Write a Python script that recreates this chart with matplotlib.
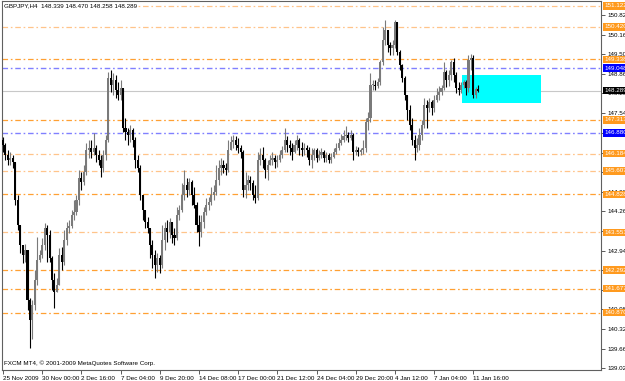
import numpy as np
import matplotlib
matplotlib.use('Agg')
import matplotlib.pyplot as plt
import matplotlib.transforms as mtransforms

plt.rcParams['font.family'] = 'Liberation Sans'
plt.rcParams['lines.scale_dashes'] = False

# GBPJPY H4 bars, 25 Nov 2009 .. 12 Jan 2010
first_open = 146.64
closes = [
    146.47, 146.14, 145.97, 146.04, 145.91, 144.64, 143.80, 143.13, 142.80, 142.96,
    141.29, 140.63, 141.12, 141.96, 142.63, 142.80, 143.13, 143.70, 143.47, 142.70,
    141.96, 141.56, 141.79, 142.80, 142.56, 143.30, 143.70, 143.76, 144.13, 144.23,
    144.64, 145.37, 145.24, 145.57, 146.31, 146.37, 146.24, 146.37, 146.14, 145.97,
    145.71, 146.14, 146.64, 148.71, 148.48, 148.65, 148.31, 148.15, 148.38, 147.04,
    146.91, 146.81, 146.98, 146.64, 145.97, 145.71, 144.80, 144.30, 143.90, 143.70,
    143.13, 142.80, 142.46, 142.70, 142.46, 143.30, 143.70, 143.57, 143.90, 143.47,
    143.37, 144.13, 144.30, 144.80, 145.14, 144.97, 145.24, 144.80, 144.47, 143.80,
    143.57, 143.90, 144.23, 144.47, 144.57, 144.80, 144.90, 145.30, 145.71, 145.81,
    145.71, 145.64, 146.31, 146.57, 146.64, 146.47, 146.37, 146.24, 144.97, 145.14,
    145.30, 145.20, 144.80, 144.70, 145.97, 146.14, 145.97, 145.64, 145.81, 145.97,
    146.04, 145.91, 145.97, 146.14, 146.31, 146.64, 146.47, 146.37, 146.24, 146.47,
    146.64, 146.37, 146.31, 146.37, 146.31, 145.97, 146.14, 146.31, 146.04, 146.14,
    146.24, 146.04, 146.14, 145.97, 146.07, 146.24, 146.37, 146.54, 146.64, 146.78,
    146.81, 146.71, 146.81, 146.24, 146.31, 146.24, 146.31, 146.37, 147.24, 147.38,
    148.48, 148.48, 148.45, 148.58, 149.25, 149.98, 150.32, 149.82, 149.72, 149.82,
    150.59, 149.58, 149.15, 148.71, 148.15, 147.64, 147.14, 146.64, 146.37, 146.47,
    146.81, 147.14, 147.81, 147.71, 147.91, 147.71, 147.98, 148.15, 148.25, 148.38,
    148.91, 148.65, 148.81, 149.25, 148.81, 148.38, 148.31, 148.48, 148.58, 148.38,
    149.32, 149.38, 148.15, 148.339, 148.289]
highs = [
    146.74, 146.54, 146.31, 146.24, 146.14, 145.91, 144.80, 143.80, 143.13, 143.17,
    142.96, 141.36, 141.29, 142.30, 143.40, 142.96, 143.37, 143.87, 143.80, 143.63,
    142.76, 142.20, 142.03, 143.03, 143.07, 143.63, 143.90, 143.97, 144.30, 144.64,
    144.80, 145.64, 145.57, 145.81, 146.54, 146.64, 146.64, 146.88, 146.47, 146.31,
    146.14, 146.31, 146.81, 148.91, 148.98, 148.88, 148.81, 148.58, 148.65, 148.38,
    147.38, 147.04, 147.14, 147.04, 146.74, 146.14, 145.81, 144.80, 144.30, 144.07,
    143.70, 143.30, 142.96, 142.86, 142.80, 143.80, 143.90, 143.97, 144.03, 143.76,
    143.70, 144.40, 144.47, 145.20, 145.64, 145.37, 145.37, 145.30, 145.07, 144.57,
    144.13, 144.13, 144.40, 144.70, 144.74, 145.07, 145.14, 145.81, 145.97, 146.04,
    145.97, 145.87, 146.64, 146.78, 146.81, 146.78, 146.71, 146.47, 146.31, 145.57,
    145.47, 145.44, 145.30, 145.14, 146.24, 146.37, 146.41, 146.04, 145.97, 146.14,
    146.24, 146.14, 146.14, 146.31, 146.44, 147.04, 146.78, 146.64, 146.54, 146.64,
    146.81, 146.71, 146.57, 146.54, 146.47, 146.41, 146.37, 146.37, 146.37, 146.31,
    146.37, 146.31, 146.24, 146.21, 146.21, 146.37, 146.54, 146.71, 146.84, 146.98,
    147.11, 146.91, 146.98, 146.88, 146.44, 146.41, 146.37, 146.64, 147.38, 147.58,
    148.88, 148.65, 148.65, 148.71, 149.32, 150.42, 150.65, 150.05, 149.92, 149.98,
    150.65, 150.59, 149.65, 149.18, 148.78, 148.15, 147.81, 147.38, 146.81, 146.71,
    147.04, 147.31, 148.05, 147.98, 148.05, 147.98, 148.15, 148.38, 148.45, 148.48,
    149.25, 148.98, 148.98, 149.32, 149.38, 148.91, 148.58, 148.58, 148.65, 148.65,
    149.48, 149.52, 149.48, 148.41, 148.470]
lows = [
    146.24, 145.97, 145.81, 145.81, 145.71, 144.47, 143.63, 142.86, 142.53, 142.56,
    140.96, 139.69, 139.99, 140.96, 141.79, 142.56, 142.70, 142.96, 142.56, 142.56,
    141.63, 141.03, 141.56, 141.89, 142.30, 142.46, 143.13, 143.53, 143.70, 143.97,
    144.13, 144.47, 144.97, 145.14, 145.47, 146.04, 146.04, 146.14, 145.91, 145.81,
    145.40, 145.57, 145.97, 146.57, 148.25, 148.15, 148.05, 147.98, 147.98, 146.91,
    146.64, 146.47, 146.57, 146.41, 145.71, 145.57, 144.64, 143.97, 143.70, 143.53,
    142.70, 142.36, 142.03, 142.23, 142.20, 142.36, 142.96, 143.23, 143.37, 143.20,
    143.13, 143.30, 143.97, 144.23, 144.64, 144.74, 144.80, 144.47, 144.37, 143.57,
    143.10, 143.40, 143.70, 144.13, 144.30, 144.47, 144.64, 144.80, 145.14, 145.47,
    145.54, 145.47, 145.57, 146.31, 146.37, 146.31, 146.21, 146.04, 144.74, 144.70,
    144.97, 144.97, 144.64, 144.53, 144.64, 145.81, 145.71, 145.37, 145.30, 145.81,
    145.81, 145.71, 145.74, 145.91, 146.04, 146.24, 146.24, 146.14, 145.97, 146.21,
    146.31, 146.14, 146.11, 146.14, 146.07, 145.81, 145.71, 145.97, 145.91, 145.97,
    146.04, 145.91, 145.91, 145.87, 145.87, 146.04, 146.17, 146.31, 146.47, 146.57,
    146.64, 146.57, 146.64, 145.97, 146.14, 146.11, 146.14, 146.17, 146.24, 146.98,
    147.24, 148.31, 148.31, 148.38, 148.48, 149.15, 149.82, 149.58, 149.48, 149.48,
    149.72, 149.48, 148.98, 148.58, 147.98, 147.31, 146.98, 146.47, 145.97, 146.24,
    146.31, 146.64, 147.04, 147.04, 147.58, 147.48, 147.58, 147.91, 147.98, 148.15,
    148.31, 148.41, 148.45, 148.65, 148.58, 148.21, 148.15, 148.21, 148.38, 148.15,
    148.25, 148.98, 148.05, 148.05, 148.258]

date_labels = ["25 Nov 2009", "30 Nov 00:00", "2 Dec 16:00", "7 Dec 04:00", "9 Dec 20:00",
               "14 Dec 08:00", "17 Dec 00:00", "21 Dec 12:00", "24 Dec 04:00",
               "29 Dec 20:00", "4 Jan 12:00", "7 Jan 04:00", "11 Jan 16:00"]
bars_per_label = 16

price_ticks = [150.820, 150.160, 149.500, 148.860, 148.200, 147.540, 146.880, 146.220,
               145.560, 144.900, 144.260, 143.600, 142.940, 142.280, 141.620, 140.980,
               140.320, 139.660, 139.020]

orange_strong = [149.338, 147.313, 144.828, 142.292, 141.677, 140.870]
orange_light = [151.122, 150.420, 146.184, 145.607, 143.551]
blue_levels = [149.048, 146.880]
last_price = 148.289
zone_bars = (187.3, 219.6)
zone_prices = (147.88, 148.81)

FS = 4.5

opens = [first_open] + closes[:-1]
n = len(closes)
x = np.arange(n)
o = np.array(opens); c = np.array(closes)
h = np.maximum(np.array(highs), np.maximum(o, c))
l = np.minimum(np.array(lows), np.minimum(o, c))

fig = plt.figure(figsize=(6.25, 3.81), dpi=100, facecolor='white')
ax = fig.add_axes([2/625, 11/381, 599/625, 369/381])
ax.set_facecolor('white')

dd = (0, (4, 2, 1.2, 2))
for p in orange_light:
    ax.axhline(p, color='#FFC48A', lw=0.9, ls=dd, zorder=1)
for p in orange_strong:
    ax.axhline(p, color='#FFA033', lw=0.9, ls=dd, zorder=1)
for p in blue_levels:
    ax.axhline(p, color='#8080FF', lw=1.0, ls=dd, zorder=1)
ax.axhline(last_price, color='#C8C8C8', lw=0.8, zorder=1)

ax.fill_between(zone_bars, zone_prices[0], zone_prices[1], color='#00FFFF', lw=0, zorder=1.5)

up = c >= o
cols = np.where(up, '#7a7a7a', '#000000')
ax.vlines(x, l, h, colors=cols, lw=0.8, zorder=3)
body = np.where(np.abs(c - o) < 0.02, 0.02, c - o)
ax.bar(x, body, bottom=o, width=0.85, color=cols, lw=0, zorder=3)

ax.set_xlim(-0.41, 244.1)
ax.set_ylim(138.953, 151.288)

tick_pos = [i * bars_per_label for i in range(len(date_labels))]
ax.set_xticks(tick_pos)
ax.set_xticklabels(date_labels, fontsize=FS, ha='left')
ax.tick_params(axis='x', length=3, width=0.6, pad=1, color='#404040')

ax.yaxis.tick_right()
ax.set_yticks(price_ticks)
ax.set_yticklabels(['%.3f' % p for p in price_ticks], fontsize=FS)
ax.tick_params(axis='y', length=3, width=0.6, pad=1.5, color='#404040')

for s in ax.spines.values():
    s.set_color('#606060')
    s.set_linewidth(0.8)

trans = mtransforms.blended_transform_factory(ax.transAxes, ax.transData)
labels = [(p, '#FF9A1E', 'white') for p in orange_strong + orange_light]
labels += [(p, '#0000FF', 'white') for p in blue_levels]
labels += [(last_price, '#000000', 'white')]
for p, fc, tc in labels:
    ax.text(1.005, p, '%.3f' % p, transform=trans, fontsize=FS, color=tc,
            va='center', ha='left', clip_on=False, zorder=10,
            bbox=dict(boxstyle='square,pad=0.2', fc=fc, ec='none'))

ax.text(0.003, 0.994, 'GBPJPY,H4  148.339 148.470 148.258 148.289', transform=ax.transAxes,
        fontsize=FS, va='top', ha='left', zorder=10,
        bbox=dict(boxstyle='square,pad=0.1', fc='white', ec='none'))
ax.text(0.003, 0.012, 'FXCM MT4, \u00a9 2001-2009 MetaQuotes Software Corp.', transform=ax.transAxes,
        fontsize=FS, va='bottom', ha='left', zorder=10)

fig.savefig('out.png', dpi=100, facecolor='white')
